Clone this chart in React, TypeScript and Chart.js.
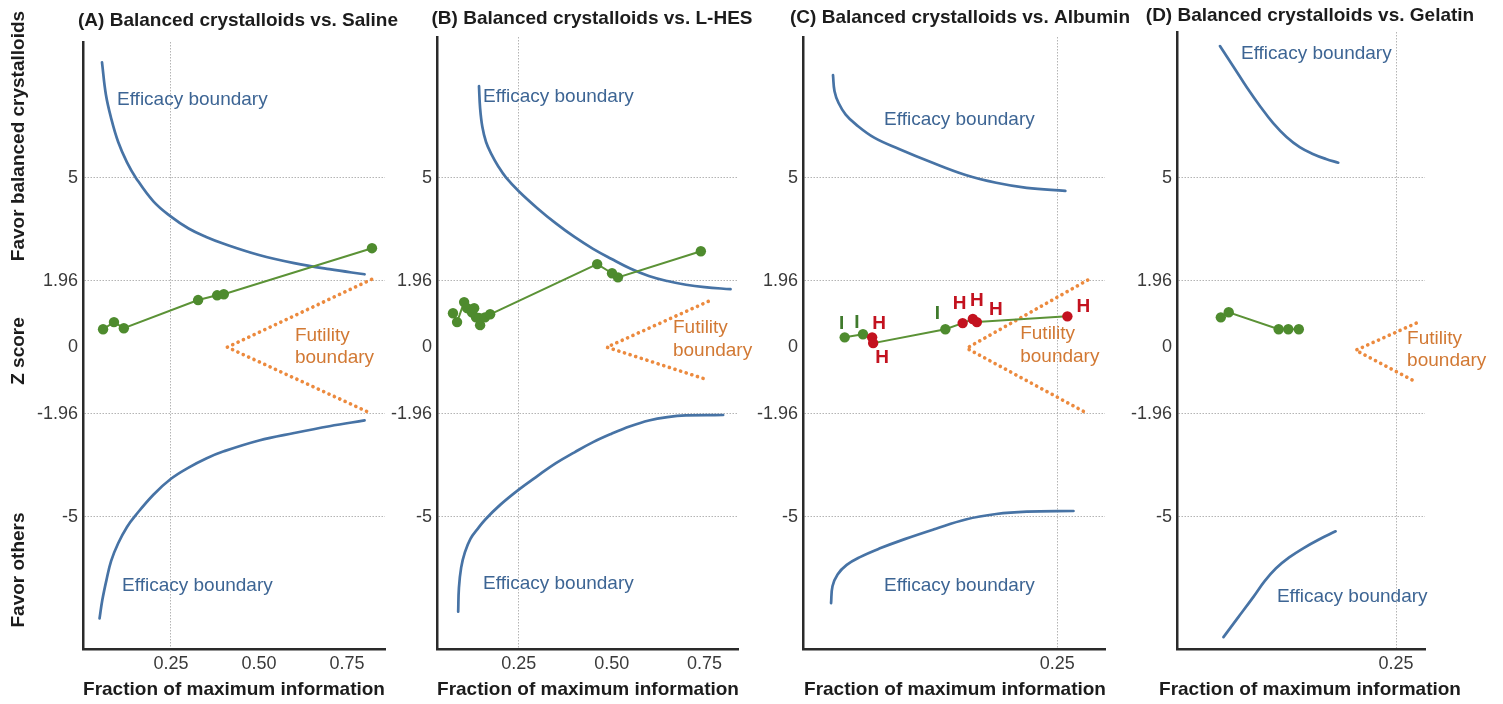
import { useEffect, useRef } from "react";
import { Chart, registerables } from "chart.js";

Chart.register(...registerables);

const FONT = '"Liberation Sans", Arial, Helvetica, sans-serif';

type Pair = [number, number];

// ---- shared axes ----
const zTicks = [-5, -1.96, 0, 1.96, 5];
const zTickLabels = ["-5", "-1.96", "0", "1.96", "5"];
const fracTicksWide = [0.25, 0.5, 0.75];
const fracTickLabelsWide = ["0.25", "0.50", "0.75"];
const fracTicksNarrow = [0.25];
const fracTickLabelsNarrow = ["0.25"];
const X_TITLE = "Fraction of maximum information";
const sideTitles = ["Favor balanced crystalloids", "Z score", "Favor others"];

// ---- (A) Saline ----
const salineUpper: Pair[] = [
  [0.054, 8.4], [0.065, 7.45], [0.08, 6.75], [0.1, 6.05], [0.125, 5.45],
  [0.15, 5.0], [0.2, 4.3], [0.25, 3.85], [0.3, 3.5], [0.35, 3.25], [0.4, 3.05],
  [0.5, 2.72], [0.6, 2.48], [0.7, 2.3], [0.8, 2.15],
];
const salineLower: Pair[] = [
  [0.047, -8.0], [0.055, -7.45], [0.067, -6.85], [0.08, -6.3], [0.1, -5.78], [0.125, -5.3],
  [0.15, -4.95], [0.2, -4.35], [0.25, -3.88], [0.3, -3.55], [0.35, -3.28], [0.4, -3.07],
  [0.5, -2.75], [0.6, -2.53], [0.7, -2.33], [0.8, -2.16],
];
const salineFutility: Pair[] = [[0.82, 2.0], [0.41, 0], [0.82, -1.96]];
const salineZ: Pair[] = [
  [0.057, 0.53], [0.088, 0.74], [0.116, 0.56], [0.327, 1.39], [0.381, 1.53], [0.4, 1.56], [0.821, 2.92],
];

// ---- (B) L-HES ----
const hesUpper: Pair[] = [
  [0.143, 7.7], [0.146, 7.05], [0.152, 6.5], [0.162, 6.05], [0.176, 5.7],
  [0.195, 5.33], [0.216, 5.0], [0.25, 4.6], [0.3, 4.1], [0.35, 3.65], [0.4, 3.25],
  [0.45, 2.9], [0.5, 2.6], [0.55, 2.32], [0.6, 2.1], [0.65, 1.95], [0.7, 1.84],
  [0.75, 1.77], [0.82, 1.71],
];
const hesLower: Pair[] = [
  [0.087, -7.8], [0.089, -7.1], [0.095, -6.5], [0.105, -6.05], [0.12, -5.65], [0.14, -5.35],
  [0.16, -5.08], [0.2, -4.65], [0.25, -4.2], [0.3, -3.8], [0.35, -3.42], [0.4, -3.1],
  [0.45, -2.8], [0.5, -2.55], [0.55, -2.33], [0.6, -2.16], [0.65, -2.06], [0.7, -2.01],
  [0.8, -2.0],
];
const hesFutility: Pair[] = [[0.76, 1.35], [0.487, 0], [0.76, -0.97]];
const hesZ: Pair[] = [
  [0.073, 1.0], [0.084, 0.74], [0.103, 1.33], [0.111, 1.15], [0.124, 1.03], [0.13, 1.15],
  [0.135, 0.88], [0.146, 0.65], [0.143, 0.86], [0.159, 0.88], [0.173, 0.97],
  [0.461, 2.45], [0.501, 2.18], [0.517, 2.06], [0.74, 2.83],
];

// ---- (C) Albumin ----
const albUpper: Pair[] = [
  [0.0295, 8.02], [0.031, 7.55], [0.035, 7.2], [0.042, 6.86], [0.052, 6.57],
  [0.07, 6.18], [0.095, 5.84], [0.125, 5.47], [0.16, 5.08], [0.19, 4.85],
  [0.22, 4.7], [0.258, 4.61],
];
const albLower: Pair[] = [
  [0.0276, -7.55], [0.029, -7.05], [0.034, -6.7], [0.043, -6.42], [0.056, -6.19],
  [0.075, -5.94], [0.1, -5.66], [0.13, -5.36], [0.16, -5.08], [0.19, -4.92],
  [0.22, -4.85], [0.266, -4.83],
];
const albFutility: Pair[] = [[0.28, 1.98], [0.161, -0.03], [0.28, -1.96]];
const albZ: Pair[] = [
  [0.041, 0.29], [0.059, 0.38], [0.068, 0.29], [0.069, 0.12], [0.14, 0.53],
  [0.157, 0.71], [0.167, 0.83], [0.171, 0.74], [0.26, 0.91],
];
const albKind = ["I", "I", "H", "H", "I", "H", "H", "H", "H"];

// ---- (D) Gelatin ----
const gelUpper: Pair[] = [
  [0.049, 8.88], [0.065, 8.25], [0.08, 7.65], [0.095, 7.1],
  [0.11, 6.6], [0.125, 6.2], [0.14, 5.9], [0.155, 5.7],
  [0.17, 5.55], [0.184, 5.44],
];
const gelLower: Pair[] = [
  [0.053, -8.55], [0.07, -7.96], [0.087, -7.37], [0.1, -6.9], [0.113, -6.52],
  [0.128, -6.2], [0.144, -5.93], [0.162, -5.67], [0.181, -5.43],
];
const gelFutility: Pair[] = [[0.273, 0.71], [0.204, -0.09], [0.273, -1.03]];
const gelZ: Pair[] = [[0.05, 0.88], [0.059, 1.03], [0.116, 0.53], [0.127, 0.53], [0.139, 0.53]];

// ---- styling ----
const C = {
  blue: "#4773a5",
  blueText: "#3d6594",
  orange: "#ec8a3e",
  orangeText: "#d27934",
  greenLine: "#5b9236",
  greenPoint: "#4e8b2e",
  greenText: "#3f7a2c",
  red: "#c3121f",
  grid: "#b4b4b4",
  axis: "#2a2a2a",
  tick: "#3a3a3a",
  title: "#1c1c1c",
};

// label offsets (px) for the interim-analysis markers in panel C
const albMarkerOffsets: Pair[] = [
  [-3, -14], [-6, -12], [7, -14], [9, 15], [-8, -15], [-3, -19], [4, -18], [19, -12], [16, -10],
];

interface Note {
  lines: string[];
  x: number;
  y: number;
  color: string;
  gap: number;
}

interface PanelSpec {
  key: string;
  title: string;
  titleX: number;
  titleY: number;
  xTitleX: number;
  plotLeft: number;
  plotRight: number;
  plotTop: number;
  xMin: number;
  xMax: number;
  yMax: number;
  xTicks: number[];
  xTickLabels: string[];
  upper: Pair[];
  lower: Pair[];
  futility: Pair[];
  path: Pair[];
  kinds?: string[];
  notes: Note[];
  side?: boolean;
}

const eff = "Efficacy boundary";
const fut = ["Futility", "boundary"];

const panels: PanelSpec[] = [
  {
    key: "A", title: "(A) Balanced crystalloids vs. Saline", titleX: 238, titleY: 21, xTitleX: 234,
    plotLeft: 83, plotRight: 385, plotTop: 42, xMin: 0, xMax: 0.858, yMax: 9.0,
    xTicks: fracTicksWide, xTickLabels: fracTickLabelsWide,
    upper: salineUpper, lower: salineLower, futility: salineFutility, path: salineZ,
    notes: [
      { lines: [eff], x: 0.0966, y: 7.31, color: C.blueText, gap: 0 },
      { lines: [eff], x: 0.111, y: -7.05, color: C.blueText, gap: 0 },
      { lines: fut, x: 0.602, y: 0.35, color: C.orangeText, gap: 22 },
    ],
    side: true,
  },
  {
    key: "B", title: "(B) Balanced crystalloids vs. L-HES", titleX: 592, titleY: 19, xTitleX: 588,
    plotLeft: 437, plotRight: 738, plotTop: 37, xMin: 0.03, xMax: 0.84, yMax: 9.147,
    xTicks: fracTicksWide, xTickLabels: fracTickLabelsWide,
    upper: hesUpper, lower: hesLower, futility: hesFutility, path: hesZ,
    notes: [
      { lines: [eff], x: 0.154, y: 7.37, color: C.blueText, gap: 0 },
      { lines: [eff], x: 0.154, y: -6.99, color: C.blueText, gap: 0 },
      { lines: fut, x: 0.665, y: 0.56, color: C.orangeText, gap: 23 },
    ],
  },
  {
    key: "C", title: "(C) Balanced crystalloids vs. Albumin", titleX: 960, titleY: 18, xTitleX: 955,
    plotLeft: 803, plotRight: 1105, plotTop: 37, xMin: 0, xMax: 0.297, yMax: 9.147,
    xTicks: fracTicksNarrow, xTickLabels: fracTickLabelsNarrow,
    upper: albUpper, lower: albLower, futility: albFutility, path: albZ, kinds: albKind,
    notes: [
      { lines: [eff], x: 0.0797, y: 6.7, color: C.blueText, gap: 0 },
      { lines: [eff], x: 0.0797, y: -7.05, color: C.blueText, gap: 0 },
      { lines: fut, x: 0.2136, y: 0.41, color: C.orangeText, gap: 23 },
    ],
  },
  {
    key: "D", title: "(D) Balanced crystalloids vs. Gelatin", titleX: 1310, titleY: 16, xTitleX: 1310,
    plotLeft: 1177, plotRight: 1425, plotTop: 32, xMin: 0, xMax: 0.283, yMax: 9.295,
    xTicks: fracTicksNarrow, xTickLabels: fracTickLabelsNarrow,
    upper: gelUpper, lower: gelLower, futility: gelFutility, path: gelZ,
    notes: [
      { lines: [eff], x: 0.073, y: 8.64, color: C.blueText, gap: 0 },
      { lines: [eff], x: 0.114, y: -7.35, color: C.blueText, gap: 0 },
      { lines: fut, x: 0.2626, y: 0.24, color: C.orangeText, gap: 22 },
    ],
  },
];

const W = 1503;
const H = 704;
const PLOT_BOTTOM = 649;
const Y_MIN = -8.9;
const Y_AXIS_W = 60;

const toXY = (p: Pair[]) => p.map(([x, y]) => ({ x, y }));

function textPlugin(spec: PanelSpec) {
  return {
    id: "panelText" + spec.key,
    afterDatasetsDraw(chart: any) {
      const ctx: CanvasRenderingContext2D = chart.ctx;
      const xs = chart.scales.x;
      const ys = chart.scales.y;
      ctx.save();
      ctx.textBaseline = "middle";

      ctx.fillStyle = C.title;
      ctx.font = `bold 19px ${FONT}`;
      ctx.textAlign = "center";
      ctx.fillText(spec.title, spec.titleX, spec.titleY);
      ctx.fillText(X_TITLE, spec.xTitleX, 690);

      ctx.font = `19px ${FONT}`;
      ctx.textAlign = "left";
      for (const n of spec.notes) {
        ctx.fillStyle = n.color;
        const px = xs.getPixelForValue(n.x);
        const py = ys.getPixelForValue(n.y);
        n.lines.forEach((line, i) => ctx.fillText(line, px, py + i * n.gap));
      }

      if (spec.kinds) {
        const meta = chart.getDatasetMeta(0);
        ctx.font = `bold 19px ${FONT}`;
        ctx.textAlign = "center";
        spec.kinds.forEach((k, i) => {
          const el = meta.data[i];
          const [dx, dy] = albMarkerOffsets[i];
          ctx.fillStyle = k === "H" ? C.red : C.greenText;
          ctx.fillText(k, el.x + dx, el.y + dy);
        });
      }

      if (spec.side) {
        ctx.fillStyle = C.title;
        ctx.font = `bold 19px ${FONT}`;
        ctx.textAlign = "center";
        const centers = [136, 351, 570];
        sideTitles.forEach((t, i) => {
          ctx.save();
          ctx.translate(19, centers[i]);
          ctx.rotate(-Math.PI / 2);
          ctx.fillText(t, 0, 0);
          ctx.restore();
        });
      }
      ctx.restore();
    },
  };
}

function Panel({ spec }: { spec: PanelSpec }) {
  const ref = useRef<HTMLCanvasElement | null>(null);

  useEffect(() => {
    if (!ref.current) return;
    const pointColors = spec.path.map((_, i) =>
      spec.kinds && spec.kinds[i] === "H" ? C.red : C.greenPoint
    );
    const boundary = (pts: Pair[]) => ({
      data: toXY(pts),
      borderColor: C.blue,
      borderWidth: 2.7,
      pointRadius: 0,
      tension: 0.4,
      borderCapStyle: "round",
      borderJoinStyle: "round",
    });
    const chart = new Chart(ref.current, {
      type: "line",
      data: {
        datasets: [
          {
            data: toXY(spec.path),
            borderColor: C.greenLine,
            borderWidth: 2,
            pointRadius: 5.2,
            pointBackgroundColor: pointColors,
            pointBorderWidth: 0,
            tension: 0,
          },
          {
            data: toXY(spec.futility),
            borderColor: C.orange,
            borderWidth: 3.6,
            borderDash: [0.1, 5.8],
            borderCapStyle: "round",
            pointRadius: 0,
            tension: 0,
          },
          boundary(spec.upper),
          boundary(spec.lower),
        ],
      } as any,
      options: {
        responsive: false,
        animation: false,
        devicePixelRatio: 1,
        layout: {
          padding: {
            left: spec.plotLeft - Y_AXIS_W,
            right: W - spec.plotRight,
            top: spec.plotTop,
            bottom: 0,
          },
        },
        plugins: {
          legend: { display: false },
          tooltip: { enabled: false },
          title: { display: false },
        },
        scales: {
          x: {
            type: "linear",
            min: spec.xMin,
            max: spec.xMax,
            afterBuildTicks: (s: any) => {
              s.ticks = spec.xTicks.map((v) => ({ value: v }));
            },
            afterFit: (s: any) => {
              s.height = H - PLOT_BOTTOM;
            },
            ticks: {
              callback: (v: any) => spec.xTickLabels[spec.xTicks.indexOf(Number(v))] ?? "",
              font: { family: FONT, size: 18 },
              color: C.tick,
              padding: 4,
              maxRotation: 0,
              autoSkip: false,
            },
            grid: {
              color: (ctx: any) => (ctx.tick && ctx.tick.value === 0.25 ? C.grid : "rgba(0,0,0,0)"),
              lineWidth: 1,
              drawTicks: false,
            },
            border: { display: true, color: C.axis, width: 2.5, dash: [1.5, 1.5] },
          },
          y: {
            type: "linear",
            min: Y_MIN,
            max: spec.yMax,
            afterBuildTicks: (s: any) => {
              s.ticks = zTicks.map((v) => ({ value: v }));
            },
            afterFit: (s: any) => {
              s.width = Y_AXIS_W;
            },
            ticks: {
              callback: (v: any) => zTickLabels[zTicks.indexOf(Number(v))] ?? "",
              font: { family: FONT, size: 18 },
              color: C.tick,
              padding: 5,
              autoSkip: false,
            },
            grid: {
              color: (ctx: any) => (ctx.tick && ctx.tick.value !== 0 ? C.grid : "rgba(0,0,0,0)"),
              lineWidth: 1,
              drawTicks: false,
            },
            border: { display: true, color: C.axis, width: 2.5, dash: [1.5, 1.5] },
          },
        },
      } as any,
      plugins: [textPlugin(spec)],
    });
    return () => chart.destroy();
  }, [spec]);

  return (
    <canvas
      ref={ref}
      width={W}
      height={H}
      style={{ position: "absolute", left: 0, top: 0, width: W, height: H }}
    />
  );
}

export default function App() {
  return (
    <div
      style={{
        position: "fixed",
        left: 0,
        top: 0,
        width: W,
        height: H,
        background: "#ffffff",
        overflow: "hidden",
      }}
    >
      {panels.map((p) => (
        <Panel key={p.key} spec={p} />
      ))}
    </div>
  );
}
